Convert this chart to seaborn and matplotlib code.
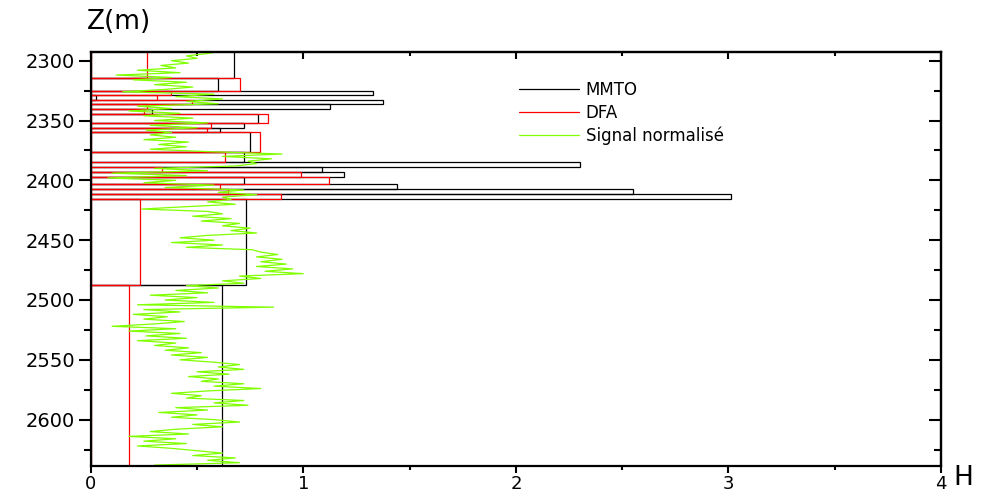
import numpy as np
import seaborn as sns
import matplotlib.pyplot as plt
from matplotlib.lines import Line2D

# segment boundaries (depth, m) shared by both methods
bounds = [2290, 2314.7, 2325, 2328.7, 2332.8, 2336.5, 2340.6, 2344.5, 2352, 2356,
          2359.8, 2376.5, 2384.9, 2388.8, 2393, 2397.2, 2403.3, 2407.2, 2411.6,
          2415.6, 2487.7, 2640]
# Hurst exponent per segment
h_mmto = [0.674, 0.597, 1.33, 0.025, 1.376, 1.127, 0.29, 0.788, 0.72, 0.61,
          0.75, 0.72, 2.30, 1.09, 1.19, 0.72, 1.44, 2.55, 3.01, 0.73, 0.616]
h_dfa = [0.263, 0.70, 0.378, 0.313, 0.478, 0.267, 0.25, 0.835, 0.566, 0.545,
         0.796, 0.632, -0.01, 0.334, 0.99, 1.12, 0.608, 0.647, 0.897, 0.232, 0.178]

# normalised signal, one value every 2 m from 2292 m
sig_start = 2292
sig_step = 2
signal = [0.62, 0.55, 0.45, 0.50, 0.38, 0.46, 0.33, 0.40, 0.22, 0.42,
          0.12, 0.38, 0.20, 0.45, 0.30, 0.48, 0.35, 0.15, 0.58, 0.40,
          0.62, 0.45, 0.60, 0.22, 0.38, 0.18, 0.42, 0.25, 0.48, 0.30,
          0.55, 0.28, 0.50, 0.26, 0.38, 0.28, 0.40, 0.25, 0.46, 0.32,
          0.45, 0.28, 0.55, 0.90, 0.62, 0.85, 0.74, 0.78, 0.68, 0.30,
          0.55, 0.10, 0.45, 0.08, 0.40, 0.25, 0.58, 0.35, 0.72, 0.60,
          0.78, 0.62, 0.66, 0.55, 0.68, 0.45, 0.24, 0.55, 0.62, 0.48,
          0.66, 0.52, 0.70, 0.62, 0.75, 0.66, 0.78, 0.55, 0.42, 0.58,
          0.38, 0.62, 0.45, 0.76, 0.80, 0.88, 0.78, 0.90, 0.80, 0.92,
          0.78, 0.95, 0.82, 1.00, 0.70, 0.80, 0.62, 0.72, 0.45, 0.60,
          0.40, 0.55, 0.28, 0.50, 0.35, 0.58, 0.22, 0.86, 0.25, 0.42,
          0.20, 0.36, 0.25, 0.44, 0.30, 0.10, 0.40, 0.18, 0.42, 0.26,
          0.45, 0.22, 0.40, 0.30, 0.46, 0.35, 0.52, 0.38, 0.55, 0.42,
          0.58, 0.70, 0.60, 0.72, 0.50, 0.65, 0.46, 0.60, 0.52, 0.72,
          0.58, 0.80, 0.55, 0.38, 0.52, 0.45, 0.72, 0.58, 0.74, 0.40,
          0.55, 0.32, 0.50, 0.38, 0.58, 0.70, 0.48, 0.62, 0.40, 0.28,
          0.46, 0.18, 0.40, 0.25, 0.45, 0.22, 0.38, 0.50, 0.62, 0.48,
          0.68, 0.55, 0.70, 0.30]
sig_depth = sig_start + sig_step * np.arange(len(signal))

x_major = [0, 1, 2, 3, 4]
x_minor = [0.5, 1.5, 2.5, 3.5]
y_major = [2300, 2350, 2400, 2450, 2500, 2550, 2600]
y_minor = [2325, 2375, 2425, 2475, 2525, 2575, 2625]

sns.set_style("ticks")
plt.rcParams["font.family"] = ["DejaVu Sans"]
plt.rcParams["text.color"] = "black"
plt.rcParams["xtick.color"] = "black"
plt.rcParams["ytick.color"] = "black"

fig = plt.figure(figsize=(10.06, 4.94), dpi=100)
ax = fig.add_axes([0.0902, 0.0573, 0.8452, 0.838])

tops = np.array(bounds[:-1])
thick = np.diff(bounds)
ax.barh(tops, h_mmto, height=thick, align="edge", fill=False,
        edgecolor="black", linewidth=0.9)
ax.barh(tops, h_dfa, height=thick, align="edge", fill=False,
        edgecolor="#ff0000", linewidth=0.9)
sns.lineplot(x=signal, y=sig_depth, sort=False, estimator=None,
             color="#80ff00", linewidth=0.9, ax=ax)

ax.set_xlim(0, 4)
ax.set_ylim(2638.5, 2292.5)
ax.set_xticks(x_major)
ax.set_xticks(x_minor, minor=True)
ax.set_yticks(y_major)
ax.set_yticks(y_minor, minor=True)
ax.set_xlabel("")
ax.set_ylabel("")

for s in ax.spines.values():
    s.set_linewidth(1.6)
    s.set_color("black")

ax.tick_params(axis="y", which="major", direction="out", length=8.5, width=1.5,
               labelsize=14, pad=3)
ax.tick_params(axis="y", which="minor", direction="out", length=5, width=1.5)
ax.tick_params(axis="x", which="major", direction="out", length=5, width=1.5,
               labelsize=13, pad=1.5)
ax.tick_params(axis="x", which="minor", direction="out", length=3, width=1.5)

# inward ticks on top and right
top = ax.secondary_xaxis("top")
top.set_xticks(x_major)
top.set_xticks(x_minor, minor=True)
top.tick_params(which="major", direction="in", length=5, width=1.5, labeltop=False)
top.tick_params(which="minor", direction="in", length=3, width=1.5)
top.spines["top"].set_linewidth(1.6)
right = ax.secondary_yaxis("right")
right.set_yticks(y_major)
right.set_yticks(y_minor, minor=True)
right.tick_params(which="major", direction="in", length=8.5, width=1.5, labelright=False)
right.tick_params(which="minor", direction="in", length=5, width=1.5)
right.spines["right"].set_linewidth(1.6)

fig.text(119 / 1006, 1 - 22 / 494, "Z(m)", fontsize=19, ha="center", va="center")
fig.text(963 / 1006, 1 - 478 / 494, "H", fontsize=19, ha="center", va="center")

handles = [Line2D([], [], color="black", lw=0.9),
           Line2D([], [], color="#ff0000", lw=0.9),
           Line2D([], [], color="#80ff00", lw=0.9)]
ax.legend(handles, ["MMTO", "DFA", "Signal normalisé"], loc="upper left",
          bbox_to_anchor=(0.5037, 0.93), frameon=False, fontsize=12,
          handlelength=3.6, handletextpad=0.4, labelspacing=0.3,
          borderpad=0, borderaxespad=0)

fig.savefig("out.png", dpi=100)
